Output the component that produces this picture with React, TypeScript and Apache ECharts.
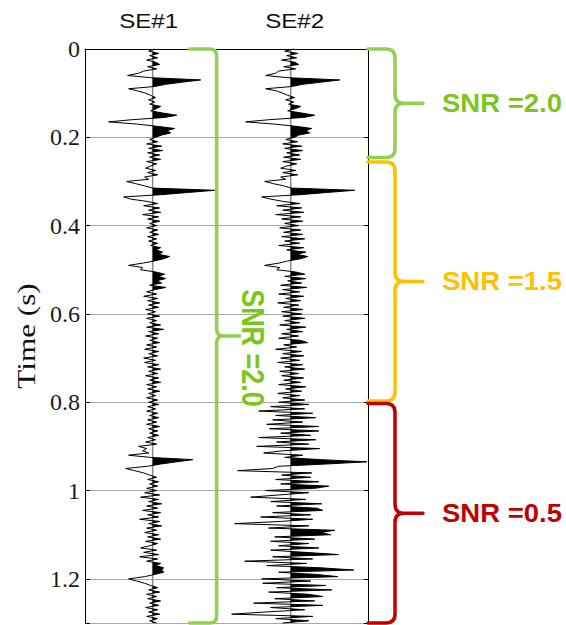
import { useEffect, useRef } from 'react';
import * as echarts from 'echarts';

// Sampling of the two seismic traces (seconds)
const DT = 0.005;
const T_MAX = 1.3;

const TRACE_NAMES = ['SE#1', 'SE#2'];
const TRACE_POSITIONS = [1, 2];

// Trace amplitudes, one sample every 5 ms from 0 s to 1.3 s
const SE1 = [
  2, -4, 6, -3, 5, -6, 3, 7, -5, 4, -9, -14, -25, -2, 48, 30, 13, 2, -24, -15,
  -7, -2, 3, -4, 2, -3, 8, 4, -2, 10, 24, 12, -20, -44, -16, 4, 22, 14, 18, 9,
  3, -3, 5, -6, 9, -4, 10, -5, 7, -3, 8, -6, 4, -2, -7, 3, -5, 5, -8, -4,
  -26, -17, -8, 0, 62, 35, 8, -29, -22, -6, 5, -9, 7, -4, 8, -10, 6, -5, 7, -3,
  4, -6, 5, -3, 6, -5, 4, -4, 5, -2, 8, 3, 10, 6, 17, 11, 2, -10, -24, -10,
  -12, 3, 12, 6, 13, 4, 9, -3, 13, 2, -6, 4, -9, 5, -5, 7, -4, 6, -7, 3,
  -5, 7, -6, 4, -3, 8, -6, 11, -4, 6, -7, 5, -3, 7, -6, 4, -8, 6, -4, 5,
  -9, 3, -8, 6, -5, 8, -4, 5, -7, 6, -3, 8, -6, 4, -5, 7, -4, 3, -6, 5,
  -4, 6, -5, 3, -6, 5, -3, 6, -5, 4, -6, 7, -4, 5, -3, 6, -5, 3, -7, 4,
  -14, -6, -10, -4, -24, -2, 40, 24, 8, -5, -27, -18, -9, -3, 4, -5, 6, -3, 5, -6,
  4, -8, 7, -12, 6, -4, 9, -6, 5, -10, 8, -5, 6, -13, 7, -4, 9, -6, 4, -8,
  6, -5, 8, -7, 5, -3, -12, 4, -9, 6, -13, 5, -6, 8, 3, 11, 9, 11, 2, -8,
  -24, -16, -8, -2, 5, -4, 7, -6, 4, -5, 8, -3, 6, -7, 5, -4, 7, -6, 5, -3,
  4,
];

const SE2 = [
  3, -6, 7, -4, 6, -9, 4, 8, -7, 5, -12, -15, -25, -3, 49, 31, 12, 1, -25, -14,
  -8, -3, 4, -5, 3, -2, 10, 5, -3, 11, 24, 13, -21, -45, -17, 5, 21, 15, 19, 8,
  4, -5, 7, -8, 11, -6, 12, -4, 9, -7, 10, -8, 6, -4, -10, 5, -8, 7, -10, -5,
  -26, -17, -7, 1, 64, 36, 9, -29, -20, -8, 9, -14, 11, -8, 13, -15, 10, -9, 12, -6,
  8, -11, 10, -7, 12, -9, 14, -6, 9, -12, 13, -4, 15, 6, 17, 10, -3, -12, -26, -11,
  -14, 5, 14, -6, 15, -3, 11, -10, 16, -8, 9, -12, 13, -5, 10, -13, 8, -7, 12, -9,
  11, -8, 14, -6, 9, -11, 15, -4, 12, -9, 8, -12, 10, 17, -7, 6, -15, 11, -8, 13,
  -10, 9, -13, 12, -6, 14, -11, 8, -9, 13, -7, 10, -12, 15, -5, 11, -13, 9, -8, 14,
  -12, 18, -20, 14, -32, 22, -15, 25, -18, 12, -24, 28, -21, 28, -10, 20, -32, 25, -14, 18,
  -34, 29, -8, -27, 12, -6, 30, 76, 35, -12, -18, -53, 21, -9, 20, -15, 28, -10, 38, 24,
  -25, 18, -12, -40, 15, -20, 31, -14, 26, 32, -18, 20, -30, 22, -10, -56, 18, -22, 44, 30,
  40, -16, 24, -20, 18, -12, 28, -20, 14, 48, -18, 22, -46, 16, -24, 30, 63, -12, 26, 47,
  -29, 20, -28, 35, -14, 41, -22, 18, 32, -16, 24, -37, 32, -20, 14, -25, -59, 22, -15, 18,
  -8,
];

const TRACE_SAMPLES = [SE1, SE2];

// Signal-to-noise windows marked on SE#2 (seconds)
const SNR_LABELS = ['SNR =2.0', 'SNR =1.5', 'SNR =0.5'];
const SNR_START = [0, 0.256, 0.803];
const SNR_END = [0.246, 0.797, 1.3];
const SNR_BRACE_COLORS = ['#92D050', '#FFC000', '#C00000'];
const SNR_TEXT_COLORS = ['#7CC51F', '#FFC000', '#C00000'];
// SE#1 is uniformly SNR 2.0 over the whole record
const SE1_SNR_LABEL = 'SNR =2.0';

const X_MIN = 0.51;
const X_MAX = 2.56;
const GAIN = 1 / 138; // trace widths per amplitude unit

const Brace = echarts.graphic.extendShape({
  type: 'brace',
  shape: { x: 0, bx: 0, tx: 0, y1: 0, y2: 0, r: 8 },
  buildPath(ctx: any, s: any) {
    const ym = (s.y1 + s.y2) / 2;
    const r = s.r;
    ctx.moveTo(s.x, s.y1);
    ctx.lineTo(s.bx - r, s.y1);
    ctx.quadraticCurveTo(s.bx, s.y1, s.bx, s.y1 + r);
    ctx.lineTo(s.bx, ym - r);
    ctx.quadraticCurveTo(s.bx, ym, s.bx + r, ym);
    ctx.lineTo(s.tx, ym);
    ctx.moveTo(s.bx + r, ym);
    ctx.quadraticCurveTo(s.bx, ym, s.bx, ym + r);
    ctx.lineTo(s.bx, s.y2 - r);
    ctx.quadraticCurveTo(s.bx, s.y2, s.bx - r, s.y2);
    ctx.lineTo(s.x, s.y2);
  },
});
echarts.graphic.registerShape('brace', Brace);

function wiggleSeries(k: number) {
  const samples = TRACE_SAMPLES[k];
  const pos = TRACE_POSITIONS[k];
  return {
    type: 'custom',
    name: TRACE_NAMES[k],
    coordinateSystem: 'cartesian2d',
    silent: true,
    data: [[pos, 0]],
    encode: { x: 0, y: 1 },
    renderItem: (_params: any, api: any) => {
      const toPx = (a: number, t: number) => api.coord([pos + a * GAIN, t]);
      const line = samples.map((a, i) => toPx(a, i * DT));
      // positive lobes, clipped at the zero line
      const fill: number[][] = [toPx(0, 0)];
      for (let i = 0; i < samples.length; i++) {
        const a = samples[i];
        if (i > 0) {
          const p = samples[i - 1];
          if ((p > 0 && a < 0) || (p < 0 && a > 0)) {
            const tc = (i - 1) * DT + (DT * p) / (p - a);
            fill.push(toPx(0, tc));
          }
        }
        fill.push(toPx(Math.max(a, 0), i * DT));
      }
      fill.push(toPx(0, (samples.length - 1) * DT));
      const b0 = toPx(0, 0);
      const b1 = toPx(0, T_MAX);
      return {
        type: 'group',
        children: [
          {
            type: 'line',
            shape: { x1: b0[0], y1: b0[1], x2: b1[0], y2: b1[1] },
            style: { stroke: '#8a8a8a', lineWidth: 1.5 },
          },
          { type: 'polygon', shape: { points: fill }, style: { fill: '#000' } },
          {
            type: 'polyline',
            shape: { points: line },
            style: { stroke: '#000', lineWidth: 1, fill: null },
          },
        ],
      };
    },
  };
}

const timeLabel = (v: number) =>
  Math.abs(v * 5 - Math.round(v * 5)) < 1e-6 ? String(+v.toFixed(1)) : '';

export default function App() {
  const ref = useRef<HTMLDivElement>(null);

  useEffect(() => {
    if (!ref.current) return;
    const chart = echarts.init(ref.current, null, { renderer: 'svg' });
    chart.setOption({
      animation: false,
      backgroundColor: '#fff',
      grid: { left: 85, right: 198, top: 49, bottom: 2 },
      xAxis: {
        type: 'value',
        position: 'top',
        min: X_MIN,
        max: X_MAX,
        axisLine: { show: true, onZero: false, lineStyle: { color: '#000', width: 1 } },
        axisTick: { show: false },
        axisLabel: { show: false },
        splitLine: { show: false },
      },
      yAxis: [
        {
          type: 'value',
          inverse: true,
          min: 0,
          max: T_MAX,
          interval: 0.2,
          position: 'left',
          axisLine: { show: true, onZero: false, lineStyle: { color: '#000', width: 1 } },
          axisTick: { show: true, inside: true, length: 5, lineStyle: { color: '#000' } },
          axisLabel: {
            formatter: timeLabel,
            fontFamily: 'Liberation Serif',
            fontSize: 24,
            color: '#1a1a1a',
            margin: 5,
          },
          splitLine: { show: true, lineStyle: { color: '#a8a8a8', width: 1 } },
        },
        {
          type: 'value',
          inverse: true,
          min: 0,
          max: T_MAX,
          interval: 0.2,
          position: 'right',
          axisLine: { show: true, onZero: false, lineStyle: { color: '#000', width: 1 } },
          axisTick: { show: true, inside: true, length: 4, lineStyle: { color: '#000' } },
          axisLabel: { show: false },
          splitLine: { show: false },
        },
      ],
      series: [wiggleSeries(0), wiggleSeries(1)],
    });

    const px = (x: number, t: number) =>
      chart.convertToPixel({ xAxisIndex: 0, yAxisIndex: 0 }, [x, t]) as number[];
    const tracePx = TRACE_POSITIONS.map((p) => px(p, 0)[0]);
    const rightEdge = px(X_MAX, 0)[0];
    const top = px(X_MIN, 0)[1];
    const bottom = px(X_MIN, T_MAX)[1];
    const titleNudge = [-4, 4];

    const graphics: any[] = [];
    TRACE_NAMES.forEach((name, k) => {
      graphics.push({
        type: 'text',
        x: tracePx[k] + titleNudge[k],
        y: 21,
        scaleX: 1.15,
        style: {
          text: name,
          font: '21px "Liberation Sans"',
          fill: '#111',
          textAlign: 'center',
          textVerticalAlign: 'middle',
        },
      });
    });
    graphics.push({
      type: 'text',
      x: 26,
      y: (top + bottom) / 2,
      rotation: Math.PI / 2,
      scaleX: 1.2,
      style: {
        text: 'Time (s)',
        font: '26px "Liberation Serif"',
        fill: '#111',
        textAlign: 'center',
        textVerticalAlign: 'middle',
      },
    });

    // brace spanning the whole of SE#1
    graphics.push({
      type: 'brace',
      z: 10,
      shape: { x: tracePx[0] + 37, bx: tracePx[0] + 64, tx: tracePx[0] + 87, y1: top, y2: bottom, r: 7 },
      style: { stroke: SNR_BRACE_COLORS[0], lineWidth: 3.5, fill: 'none', lineCap: 'round' },
    });
    graphics.push({
      type: 'text',
      z: 10,
      x: tracePx[0] + 100,
      y: (top + bottom) / 2 + 12,
      rotation: -Math.PI / 2,
      scaleY: 1.15,
      style: {
        text: SE1_SNR_LABEL,
        font: 'bold 27px "Liberation Sans"',
        fill: SNR_TEXT_COLORS[0],
        textAlign: 'center',
        textVerticalAlign: 'middle',
      },
    });

    // SNR windows along SE#2
    SNR_LABELS.forEach((label, k) => {
      const y1 = px(X_MAX, SNR_START[k])[1];
      const y2 = px(X_MAX, SNR_END[k])[1];
      graphics.push({
        type: 'brace',
        z: 10,
        shape: { x: rightEdge, bx: rightEdge + 27, tx: rightEdge + 55, y1, y2, r: 9 },
        style: { stroke: SNR_BRACE_COLORS[k], lineWidth: 3.5, fill: 'none', lineCap: 'round' },
      });
      graphics.push({
        type: 'text',
        z: 10,
        x: rightEdge + 74,
        y: (y1 + y2) / 2,
        scaleX: 1.1,
        style: {
          text: label,
          font: 'bold 25px "Liberation Sans"',
          fill: SNR_TEXT_COLORS[k],
          textAlign: 'left',
          textVerticalAlign: 'middle',
        },
      });
    });

    chart.setOption({ graphic: graphics });
    return () => chart.dispose();
  }, []);

  return (
    <div
      ref={ref}
      style={{ position: 'absolute', left: 0, top: 0, width: 566, height: 625 }}
    />
  );
}
